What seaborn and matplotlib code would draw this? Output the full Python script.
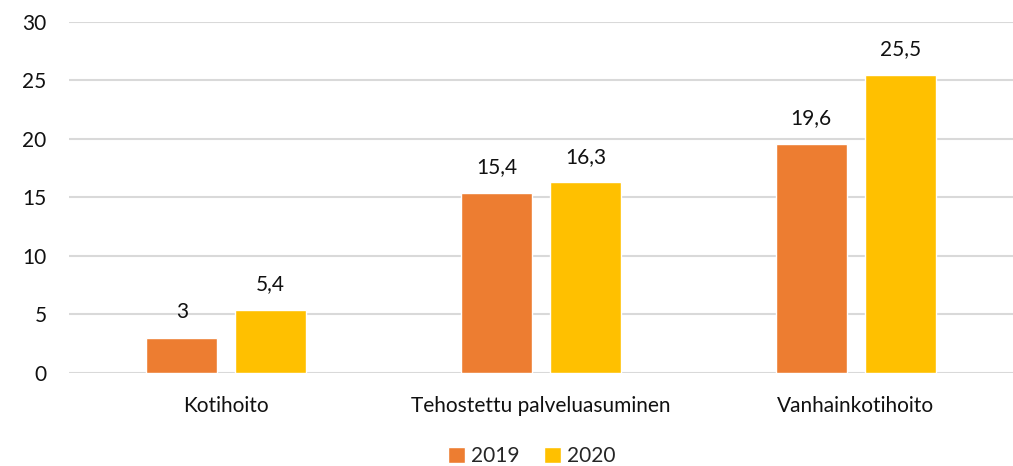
import pandas as pd
import matplotlib.pyplot as plt
import seaborn as sns

categories = ['Kotihoito', 'Tehostettu palveluasuminen', 'Vanhainkotihoito']
years = ['2019', '2020']
values_2019 = [3.0, 15.4, 19.6]
values_2020 = [5.4, 16.3, 25.5]

df = pd.DataFrame({
    'category': categories * 2,
    'year': [years[0]] * 3 + [years[1]] * 3,
    'value': values_2019 + values_2020,
})

sns.set_theme(style='white')
plt.rcParams['font.family'] = ['Lato', 'DejaVu Sans']

fig = plt.figure(figsize=(10.13, 4.66), dpi=100)
ax = fig.add_axes([0.068, 0.2, 0.932, 0.753])

sns.barplot(data=df, x='category', y='value', hue='year',
            palette=['#ED7D31', '#FFC000'], width=0.565, gap=0.2,
            saturation=1, ax=ax, zorder=3)

for cont in ax.containers:
    ax.bar_label(cont, labels=[f'{v:g}'.replace('.', ',') for v in cont.datavalues],
                 padding=11, fontsize=15, color='#111111')

ax.set_ylim(0, 30)
ax.set_xlim(-0.5, 2.5)
ax.set_yticks(range(0, 31, 5))
ax.yaxis.grid(True, color='#D9D9D9', linewidth=1.5, zorder=0)
ax.set_xlabel('')
ax.set_ylabel('')
ax.tick_params(axis='y', labelsize=15, pad=16, length=0, labelcolor='#111111')
ax.tick_params(axis='x', labelsize=15, pad=17, length=0, labelcolor='#111111')
for s in ax.spines.values():
    s.set_visible(False)

ax.legend_.remove()
handles, labels = ax.get_legend_handles_labels()
fig.legend(handles, labels, loc='lower center', bbox_to_anchor=(0.525, -0.04),
           ncol=2, frameon=False, fontsize=15, handlelength=0.8, handleheight=0.8,
           handletextpad=0.3, columnspacing=1.2)

fig.savefig('out.png', dpi=100)
